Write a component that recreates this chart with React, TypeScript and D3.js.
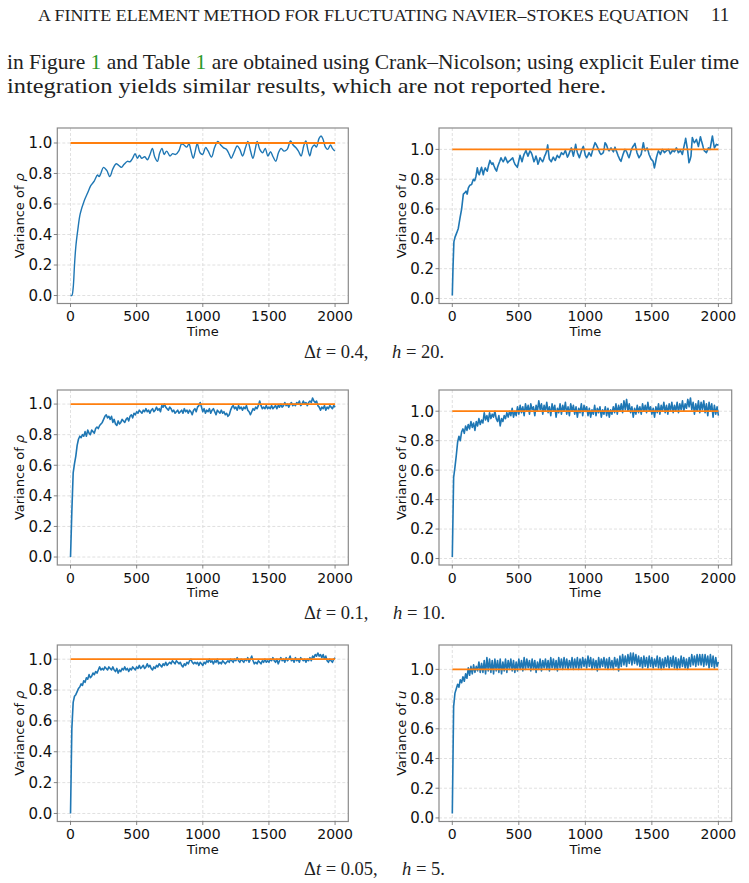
import React, { useEffect, useRef } from "react";
import * as d3 from "d3";

const W = 749;
const H = 883;

const xTicks = [0, 500, 1000, 1500, 2000];
const yTicks = [0, 0.2, 0.4, 0.6, 0.8, 1.0];
const refTimes = [0, 2000];
const refValue = 1.0;

// dt = 0.4, h = 20 : [time, variance]
const rhoDt04 = [
  [0, 0], [10, 0.0], [20, 0.05], [30, 0.2], [40, 0.32], [55, 0.43], [73, 0.535],
  [103, 0.62], [128, 0.67], [153, 0.72], [179, 0.75], [204, 0.79], [216, 0.78],
  [229, 0.8], [249, 0.84], [274, 0.82], [297, 0.78], [320, 0.83], [345, 0.864],
  [362, 0.855], [385, 0.84], [405, 0.86], [430, 0.88], [450, 0.877], [470, 0.9],
  [488, 0.93], [506, 0.9], [521, 0.92], [538, 0.9], [561, 0.91], [581, 0.89],
  [601, 0.925], [619, 0.965], [636, 0.91], [657, 0.88], [674, 0.935], [692, 0.965],
  [707, 0.925], [727, 0.947], [752, 0.915], [772, 0.93], [795, 0.925], [820, 0.95],
  [840, 0.995], [858, 0.987], [878, 0.973], [896, 0.995], [908, 0.958], [928, 0.9],
  [943, 0.947], [958, 0.995], [979, 0.936], [999, 0.925], [1021, 0.97], [1039, 0.95],
  [1066, 0.908], [1089, 0.97], [1114, 1.01], [1135, 0.987], [1155, 0.97], [1180, 0.958],
  [1200, 0.925], [1215, 0.9], [1235, 0.936], [1260, 0.98], [1280, 0.958], [1301, 0.915],
  [1323, 0.97], [1341, 1.01], [1361, 0.947], [1379, 0.9], [1399, 0.97], [1411, 1.01],
  [1431, 0.958], [1452, 0.936], [1472, 0.965], [1492, 0.915], [1512, 0.943], [1532, 0.908],
  [1552, 0.88], [1572, 0.936], [1592, 0.965], [1613, 0.947], [1638, 0.958], [1663, 1.013],
  [1683, 0.987], [1703, 0.97], [1723, 0.947], [1743, 0.915], [1763, 0.98], [1779, 1.013],
  [1794, 0.958], [1809, 0.915], [1826, 0.97], [1844, 0.987], [1859, 0.973], [1879, 1.03],
  [1894, 1.046], [1909, 1.024], [1927, 0.973], [1945, 0.958], [1965, 0.987], [1980, 0.965],
  [1998, 0.947],
];

const uDt04 = [
  [0, 0.02], [5, 0.2], [12, 0.38], [20, 0.41], [33, 0.44], [45, 0.47], [58, 0.54],
  [70, 0.6], [83, 0.7], [95, 0.71], [103, 0.72], [112, 0.7], [120, 0.74], [132, 0.76],
  [145, 0.764], [158, 0.8], [168, 0.79], [178, 0.82], [188, 0.876], [196, 0.84],
  [203, 0.83], [212, 0.86], [220, 0.88], [227, 0.85], [233, 0.83], [240, 0.86],
  [248, 0.876], [256, 0.86], [263, 0.854], [272, 0.89], [283, 0.926], [290, 0.91],
  [298, 0.9], [305, 0.91], [313, 0.89], [322, 0.87], [333, 0.854], [340, 0.88],
  [348, 0.9], [357, 0.92], [366, 0.944], [374, 0.93], [383, 0.917], [390, 0.93],
  [398, 0.948], [407, 0.93], [416, 0.91], [425, 0.92], [434, 0.926], [444, 0.935],
  [454, 0.944], [462, 0.92], [471, 0.9], [480, 0.89], [489, 0.88], [499, 0.92],
  [509, 0.96], [516, 0.94], [524, 0.917], [532, 0.945], [539, 0.966], [547, 0.98],
  [554, 0.993], [562, 0.97], [569, 0.955], [577, 0.975], [584, 0.99], [592, 0.98],
  [599, 0.966], [607, 0.94], [614, 0.917], [622, 0.935], [629, 0.955], [637, 0.93],
  [644, 0.9], [652, 0.92], [659, 0.944], [669, 0.93], [679, 0.917], [687, 0.935],
  [694, 0.955], [702, 0.97], [709, 0.99], [717, 1.03], [723, 0.98], [729, 0.935],
  [737, 0.925], [744, 0.917], [752, 0.935], [759, 0.948], [767, 0.935], [774, 0.926],
  [782, 0.945], [789, 0.96], [797, 0.95], [804, 0.944], [812, 0.96], [820, 0.978],
  [828, 0.97], [835, 0.966], [843, 0.98], [850, 0.993], [858, 0.97], [865, 0.948],
  [873, 0.96], [880, 0.978], [888, 0.995], [895, 1.01], [903, 0.98], [910, 0.955],
  [918, 0.99], [927, 1.034], [934, 1.0], [940, 0.978], [948, 0.96], [955, 0.944],
  [964, 0.97], [972, 0.993], [979, 1.01], [985, 1.02], [993, 0.99], [1000, 0.96],
  [1010, 0.944], [1019, 0.96], [1028, 0.978], [1036, 0.965], [1043, 0.955], [1052, 0.985],
  [1060, 1.01], [1067, 1.03], [1073, 1.045], [1080, 1.035], [1088, 1.02], [1096, 1.005],
  [1103, 0.99], [1110, 0.975], [1118, 0.966], [1127, 0.972], [1135, 0.978], [1142, 1.01],
  [1148, 1.045], [1156, 1.035], [1163, 1.02], [1170, 1.0], [1178, 0.99], [1186, 1.0],
  [1193, 1.01], [1202, 0.995], [1211, 0.984], [1217, 1.0], [1223, 1.015], [1230, 0.995],
  [1238, 0.978], [1245, 0.96], [1253, 0.944], [1260, 0.93], [1268, 0.92], [1276, 0.945],
  [1283, 0.966], [1291, 0.985], [1298, 1.0], [1306, 0.99], [1313, 0.978], [1320, 0.96],
  [1328, 0.944], [1336, 0.965], [1343, 0.99], [1350, 1.005], [1358, 1.02], [1366, 1.03],
  [1373, 1.04], [1380, 1.01], [1388, 0.978], [1396, 0.96], [1403, 0.944], [1411, 0.955],
  [1419, 0.966], [1428, 1.005], [1436, 1.045], [1442, 1.015], [1449, 0.99], [1457, 1.0],
  [1464, 1.01], [1472, 0.99], [1479, 0.966], [1487, 0.95], [1494, 0.935], [1502, 0.928],
  [1509, 0.92], [1514, 0.9], [1519, 0.876], [1527, 0.91], [1534, 0.944], [1542, 0.97],
  [1549, 0.99], [1557, 0.98], [1564, 0.966], [1572, 0.985], [1579, 1.0], [1587, 0.99],
  [1594, 0.978], [1602, 0.985], [1609, 0.99], [1617, 0.995], [1624, 1.0], [1632, 0.985],
  [1639, 0.97], [1647, 0.98], [1654, 0.993], [1662, 0.99], [1669, 0.984], [1677, 0.995],
  [1684, 1.01], [1692, 0.995], [1699, 0.978], [1707, 0.985], [1714, 0.993], [1722, 0.98],
  [1729, 0.966], [1737, 1.0], [1744, 1.03], [1749, 1.05], [1754, 1.074], [1762, 1.03],
  [1769, 0.99], [1774, 0.95], [1779, 0.91], [1787, 0.93], [1794, 0.955], [1799, 1.02],
  [1804, 1.08], [1812, 1.06], [1819, 1.045], [1827, 1.055], [1835, 1.067], [1842, 1.045],
  [1850, 1.02], [1857, 1.05], [1865, 1.085], [1872, 1.06], [1880, 1.034], [1887, 1.01],
  [1895, 0.99], [1902, 0.985], [1910, 0.978], [1918, 0.995], [1925, 1.01], [1931, 1.005],
  [1937, 1.0], [1946, 1.045], [1955, 1.09], [1962, 1.05], [1970, 1.01], [1977, 1.02],
  [1985, 1.034], [1992, 1.03], [2000, 1.03],
];

// dt = 0.1 and dt = 0.05 : one value every 10 time units, t = 0 .. 2000
const rhoDt01 = [
  0.00, 0.30, 0.55, 0.61, 0.66, 0.73, 0.77, 0.79, 0.78, 0.80,
  0.79, 0.82, 0.79, 0.83, 0.81, 0.80, 0.83, 0.82, 0.81, 0.84,
  0.85, 0.84, 0.86, 0.87, 0.88, 0.90, 0.92, 0.93, 0.91, 0.92,
  0.90, 0.92, 0.88, 0.90, 0.87, 0.86, 0.89, 0.87, 0.88, 0.90,
  0.89, 0.88, 0.90, 0.91, 0.89, 0.92, 0.93, 0.91, 0.94, 0.93,
  0.95, 0.94, 0.96, 0.95, 0.94, 0.96, 0.95, 0.97, 0.95, 0.96,
  0.94, 0.96, 0.97, 0.95, 0.96, 0.98, 0.96, 0.97, 0.95, 0.99,
  0.98, 1.00, 0.98, 0.97, 0.96, 0.98, 0.97, 0.95, 0.96, 0.94,
  0.95, 0.96, 0.94, 0.95, 0.96, 0.94, 0.97, 0.95, 0.96, 0.94,
  0.96, 0.95, 0.93, 0.96, 0.97, 0.95, 0.98, 0.99, 1.01, 0.98,
  0.95, 0.97, 0.94, 0.96, 0.95, 0.97, 0.94, 0.96, 0.97, 0.95,
  0.93, 0.96, 0.95, 0.94, 0.96, 0.94, 0.95, 0.93, 0.94, 0.92,
  0.93, 0.96, 0.98, 0.99, 0.97, 0.98, 0.96, 0.99, 0.97, 0.98,
  0.96, 0.98, 0.97, 0.99, 0.96, 0.95, 0.93, 0.95, 0.97, 0.96,
  0.98, 0.97, 0.99, 1.02, 0.99, 0.97, 0.98, 0.97, 0.99, 0.97,
  0.98, 0.97, 0.99, 0.97, 0.98, 0.99, 0.97, 0.99, 0.98, 1.00,
  0.98, 0.99, 1.01, 0.99, 1.00, 0.98, 1.00, 1.01, 0.99, 1.00,
  0.99, 1.01, 1.00, 1.02, 0.99, 1.00, 1.02, 1.00, 1.01, 0.99,
  1.01, 1.02, 1.01, 1.04, 1.02, 1.01, 1.02, 0.99, 0.98, 0.96,
  0.98, 0.97, 0.99, 0.96, 0.98, 0.97, 0.99, 0.98, 0.97, 0.99,
  0.98,
];

const uDt01 = [
  0.01, 0.55, 0.62, 0.70, 0.79, 0.83, 0.80, 0.86, 0.88, 0.85,
  0.90, 0.87, 0.91, 0.88, 0.93, 0.89, 0.92, 0.87, 0.93, 0.90,
  0.95, 0.91, 0.94, 0.92, 0.99, 0.94, 0.97, 0.93, 0.99, 0.95,
  0.98, 0.96, 1.00, 0.95, 0.93, 0.97, 0.90, 0.95, 0.93, 0.97,
  0.95, 0.99, 0.96, 1.00, 0.97, 1.02, 0.96, 1.00, 0.97, 1.03,
  0.98, 1.04, 0.99, 1.03, 0.97, 1.05, 1.00, 1.04, 0.98, 1.05,
  1.01, 1.03, 0.97, 1.04, 1.00, 1.07, 1.01, 1.05, 0.98, 1.04,
  1.00, 1.06, 0.99, 1.03, 0.97, 1.05, 1.00, 1.04, 0.96, 1.02,
  0.99, 1.05, 0.98, 1.04, 1.00, 1.06, 0.98, 1.03, 0.97, 1.05,
  1.00, 1.04, 0.98, 1.03, 0.96, 1.02, 0.99, 1.05, 0.97, 1.04,
  1.00, 1.03, 0.97, 1.02, 0.96, 1.01, 0.98, 1.04, 0.97, 1.02,
  0.99, 1.03, 0.96, 1.01, 0.98, 1.03, 0.97, 1.02, 0.96, 1.01,
  0.98, 1.03, 0.99, 1.05, 0.98, 1.04, 1.00, 1.05, 0.99, 1.07,
  1.01, 1.08, 1.00, 1.05, 0.99, 1.03, 0.96, 1.02, 0.98, 1.04,
  0.99, 1.03, 0.98, 1.05, 1.00, 1.04, 0.99, 1.06, 1.00, 1.03,
  0.98, 1.02, 0.96, 1.03, 0.99, 1.05, 0.98, 1.04, 1.00, 1.06,
  0.99, 1.04, 0.98, 1.05, 1.00, 1.06, 0.99, 1.04, 1.00, 1.06,
  0.99, 1.05, 1.01, 1.07, 1.00, 1.05, 1.02, 1.08, 1.03, 1.09,
  1.01, 1.06, 0.98, 1.05, 1.00, 1.07, 0.99, 1.06, 1.01, 1.07,
  0.99, 1.05, 0.97, 1.06, 1.00, 1.05, 0.96, 1.04, 0.98, 1.03,
  0.97,
];

const rhoDt005 = [
  0.00, 0.55, 0.72, 0.76, 0.77, 0.79, 0.81, 0.82, 0.84, 0.83,
  0.86, 0.85, 0.88, 0.87, 0.90, 0.88, 0.89, 0.91, 0.90, 0.92,
  0.91, 0.93, 0.95, 0.93, 0.94, 0.93, 0.95, 0.94, 0.93, 0.95,
  0.94, 0.93, 0.95, 0.93, 0.92, 0.94, 0.91, 0.93, 0.92, 0.94,
  0.93, 0.95, 0.93, 0.94, 0.92, 0.94, 0.93, 0.95, 0.94, 0.93,
  0.95, 0.94, 0.96, 0.94, 0.95, 0.96, 0.94, 0.95, 0.97, 0.95,
  0.96, 0.94, 0.93, 0.95, 0.94, 0.96, 0.95, 0.97, 0.96, 0.95,
  0.97, 0.96, 0.98, 0.96, 0.97, 0.98, 0.97, 0.99, 0.98, 0.97,
  0.99, 0.98, 0.97, 0.98, 0.96, 0.95, 0.97, 0.96, 0.98, 0.97,
  0.99, 1.00, 0.98, 0.97, 0.98, 0.97, 0.98, 0.96, 0.98, 0.97,
  0.96, 0.98, 0.97, 0.99, 0.98, 1.00, 0.98, 0.99, 0.97, 0.99,
  0.98, 1.00, 0.97, 0.98, 0.97, 0.99, 0.98, 0.97, 0.98, 0.99,
  0.98, 1.00, 0.99, 0.98, 1.00, 0.99, 1.01, 0.99, 0.98, 1.00,
  0.99, 0.98, 1.00, 0.99, 1.01, 0.98, 1.00, 1.02, 0.99, 0.97,
  0.98, 0.97, 0.99, 0.98, 0.97, 0.99, 0.98, 1.00, 0.98, 0.99,
  0.98, 1.00, 0.99, 1.01, 0.99, 0.98, 1.00, 0.97, 0.99, 1.01,
  0.99, 1.00, 0.98, 1.01, 0.99, 1.00, 1.02, 0.99, 1.00, 0.98,
  1.01, 0.99, 1.00, 0.98, 1.01, 1.00, 0.99, 1.00, 0.98, 1.00,
  0.99, 1.01, 0.99, 1.02, 1.01, 1.03, 1.02, 1.04, 1.02, 1.03,
  1.01, 1.03, 1.00, 1.02, 0.99, 0.98, 1.00, 0.99, 0.98, 1.00,
  1.01,
];

const uDt005 = [
  0.03, 0.75, 0.84, 0.87, 0.90, 0.88, 0.93, 0.91, 0.95, 0.92,
  0.97, 0.94, 1.01, 0.96, 1.02, 0.97, 1.03, 0.98, 1.02, 0.99,
  1.05, 0.98, 1.04, 0.98, 1.06, 0.97, 1.08, 0.99, 1.07, 0.98,
  1.06, 0.97, 1.07, 0.99, 1.06, 0.98, 1.07, 0.97, 1.05, 0.99,
  1.07, 0.98, 1.06, 1.00, 1.07, 0.99, 1.06, 0.98, 1.05, 0.99,
  1.07, 1.00, 1.06, 0.99, 1.08, 1.00, 1.07, 1.01, 1.06, 0.99,
  1.07, 1.00, 1.06, 0.98, 1.05, 1.00, 1.07, 0.99, 1.06, 1.01,
  1.07, 1.00, 1.06, 0.99, 1.08, 1.01, 1.07, 1.00, 1.06, 0.99,
  1.08, 1.01, 1.07, 1.00, 1.08, 1.01, 1.07, 1.00, 1.06, 1.01,
  1.08, 1.00, 1.07, 1.01, 1.08, 1.00, 1.07, 1.01, 1.08, 1.02,
  1.07, 1.01, 1.09, 1.02, 1.08, 1.00, 1.07, 1.01, 1.06, 0.99,
  1.08, 1.01, 1.07, 1.02, 1.08, 1.01, 1.07, 1.00, 1.08, 1.01,
  1.06, 1.00, 1.08, 1.02, 1.07, 0.99, 1.09, 1.02, 1.10, 1.03,
  1.09, 1.02, 1.10, 1.04, 1.11, 1.03, 1.11, 1.04, 1.10, 1.03,
  1.09, 1.02, 1.08, 1.01, 1.09, 1.02, 1.08, 1.01, 1.09, 1.02,
  1.08, 1.01, 1.07, 1.02, 1.09, 1.01, 1.08, 1.00, 1.07, 1.01,
  1.08, 1.02, 1.09, 1.01, 1.08, 1.02, 1.09, 1.01, 1.08, 1.00,
  1.07, 1.01, 1.09, 1.02, 1.08, 1.01, 1.07, 1.00, 1.08, 1.02,
  1.10, 1.03, 1.09, 1.02, 1.10, 1.03, 1.10, 1.03, 1.10, 1.02,
  1.10, 1.03, 1.09, 1.01, 1.10, 1.02, 1.09, 1.01, 1.08, 1.02,
  1.05,
];

const everyTen = (vals) => vals.map((v, i) => [i * 10, v]);

const cols = [
  { x0: 57.3, x1: 348.3 },
  { x0: 439, x1: 731.7 },
];
const rows = [
  { y0: 128, y1: 303.5 },
  { y0: 390, y1: 565 },
  { y0: 645, y1: 821.5 },
];

const panels = [
  { row: 0, col: 0, sym: "ρ", data: rhoDt04, smooth: true },
  { row: 0, col: 1, sym: "u", data: uDt04, smooth: false },
  { row: 1, col: 0, sym: "ρ", data: everyTen(rhoDt01), smooth: false },
  { row: 1, col: 1, sym: "u", data: everyTen(uDt01), smooth: false },
  { row: 2, col: 0, sym: "ρ", data: everyTen(rhoDt005), smooth: false },
  { row: 2, col: 1, sym: "u", data: everyTen(uDt005), smooth: false },
];

const captions = [
  { y: 358, dt: "0.4,", h: "20.", hx: 392 },
  { y: 619, dt: "0.1,", h: "10.", hx: 393 },
  { y: 875, dt: "0.05,", h: "5.", hx: 402 },
];

const sans = "DejaVu Sans, sans-serif";
const serif = "Liberation Serif, DejaVu Serif, serif";
const ink = "#111";

function drawPanel(root, p) {
  const { x0, x1 } = cols[p.col];
  const { y0, y1 } = rows[p.row];
  const g = root.append("g");

  const x = d3.scaleLinear().domain([-100, 2100]).range([x0, x1]);
  const vals = p.data.map((d) => d[1]).concat([refValue]);
  const lo = d3.min(vals);
  const hi = d3.max(vals);
  const pad = (hi - lo) * 0.05;
  const y = d3.scaleLinear().domain([lo - pad, hi + pad]).range([y1, y0]);

  // grid
  g.selectAll(".gx")
    .data(xTicks)
    .join("line")
    .attr("x1", (d) => x(d))
    .attr("x2", (d) => x(d))
    .attr("y1", y0)
    .attr("y2", y1)
    .attr("stroke", "#d8d8d8")
    .attr("stroke-width", 0.8)
    .attr("stroke-dasharray", "3,2");
  g.selectAll(".gy")
    .data(yTicks)
    .join("line")
    .attr("x1", x0)
    .attr("x2", x1)
    .attr("y1", (d) => y(d))
    .attr("y2", (d) => y(d))
    .attr("stroke", "#d8d8d8")
    .attr("stroke-width", 0.8)
    .attr("stroke-dasharray", "3,2");

  const line = d3
    .line()
    .x((d) => x(d[0]))
    .y((d) => y(d[1]))
    .curve(p.smooth ? d3.curveCatmullRom : d3.curveLinear);

  g.append("path")
    .attr("d", line(p.data))
    .attr("fill", "none")
    .attr("stroke", "#1f77b4")
    .attr("stroke-width", p.smooth ? 1.4 : 1.6)
    .attr("stroke-linejoin", "round");

  g.append("path")
    .attr("d", line(refTimes.map((t) => [t, refValue])))
    .attr("fill", "none")
    .attr("stroke", "#ff7f0e")
    .attr("stroke-width", 1.8);

  // spines
  g.append("rect")
    .attr("x", x0)
    .attr("y", y0)
    .attr("width", x1 - x0)
    .attr("height", y1 - y0)
    .attr("fill", "none")
    .attr("stroke", "#8a8a8a")
    .attr("stroke-width", 1.2);

  // ticks
  g.selectAll(".tx")
    .data(xTicks)
    .join("line")
    .attr("x1", (d) => x(d))
    .attr("x2", (d) => x(d))
    .attr("y1", y1)
    .attr("y2", y1 + 3.5)
    .attr("stroke", "#666")
    .attr("stroke-width", 0.8);
  g.selectAll(".ty")
    .data(yTicks)
    .join("line")
    .attr("x1", x0 - 3.5)
    .attr("x2", x0)
    .attr("y1", (d) => y(d))
    .attr("y2", (d) => y(d))
    .attr("stroke", "#666")
    .attr("stroke-width", 0.8);

  g.selectAll(".lx")
    .data(xTicks)
    .join("text")
    .attr("x", (d) => x(d))
    .attr("y", y1 + 17.8)
    .attr("text-anchor", "middle")
    .attr("font-family", sans)
    .attr("font-size", 14)
    .attr("fill", ink)
    .text((d) => d);
  g.selectAll(".ly")
    .data(yTicks)
    .join("text")
    .attr("x", x0 - 5)
    .attr("y", (d) => y(d))
    .attr("dy", "0.36em")
    .attr("text-anchor", "end")
    .attr("font-family", sans)
    .attr("font-size", 15)
    .attr("fill", ink)
    .text((d) => d3.format(".1f")(d));

  g.append("text")
    .attr("x", (x0 + x1) / 2)
    .attr("y", y1 + 32)
    .attr("text-anchor", "middle")
    .attr("font-family", sans)
    .attr("font-size", 13)
    .attr("fill", ink)
    .text("Time");

  const yl = g
    .append("text")
    .attr("transform", `translate(${x0 - 33},${(y0 + y1) / 2}) rotate(-90)`)
    .attr("text-anchor", "middle")
    .attr("font-family", sans)
    .attr("font-size", 13)
    .attr("fill", ink);
  yl.append("tspan").text("Variance of ");
  yl.append("tspan").attr("font-style", "italic").text(p.sym);
}

export default function App() {
  const gRef = useRef(null);

  useEffect(() => {
    document.body.style.margin = "0";
    const root = d3.select(gRef.current);
    root.selectAll("*").remove();
    panels.forEach((p) => drawPanel(root, p));
  }, []);

  return (
    <svg width={W} height={H} style={{ display: "block", background: "#fff" }}>
      <text x={38} y={21} fontFamily={serif} fontSize={16} fill="#222" textLength={651} lengthAdjust="spacingAndGlyphs">
        A FINITE ELEMENT METHOD FOR FLUCTUATING NAVIER–STOKES EQUATION
      </text>
      <text x={711} y={21} fontFamily={serif} fontSize={19} fill="#222">
        11
      </text>
      <text x={7} y={69} fontFamily={serif} fontSize={21} fill="#222" textLength={732} lengthAdjust="spacingAndGlyphs">
        in Figure <tspan fill="#2a992a">1</tspan> and Table <tspan fill="#2a992a">1</tspan> are obtained using Crank–Nicolson; using explicit Euler time
      </text>
      <text x={7} y={92.7} fontFamily={serif} fontSize={21} fill="#222" textLength={599} lengthAdjust="spacingAndGlyphs">
        integration yields similar results, which are not reported here.
      </text>
      <g ref={gRef} />
      {captions.map((c, i) => (
        <text key={i} y={c.y} fontFamily={serif} fontSize={18.5} fill="#222">
          <tspan x={304}>Δ</tspan>
          <tspan fontStyle="italic">t</tspan>
          <tspan>{" = " + c.dt}</tspan>
          <tspan x={c.hx} fontStyle="italic">h</tspan>
          <tspan>{" = " + c.h}</tspan>
        </text>
      ))}
    </svg>
  );
}
